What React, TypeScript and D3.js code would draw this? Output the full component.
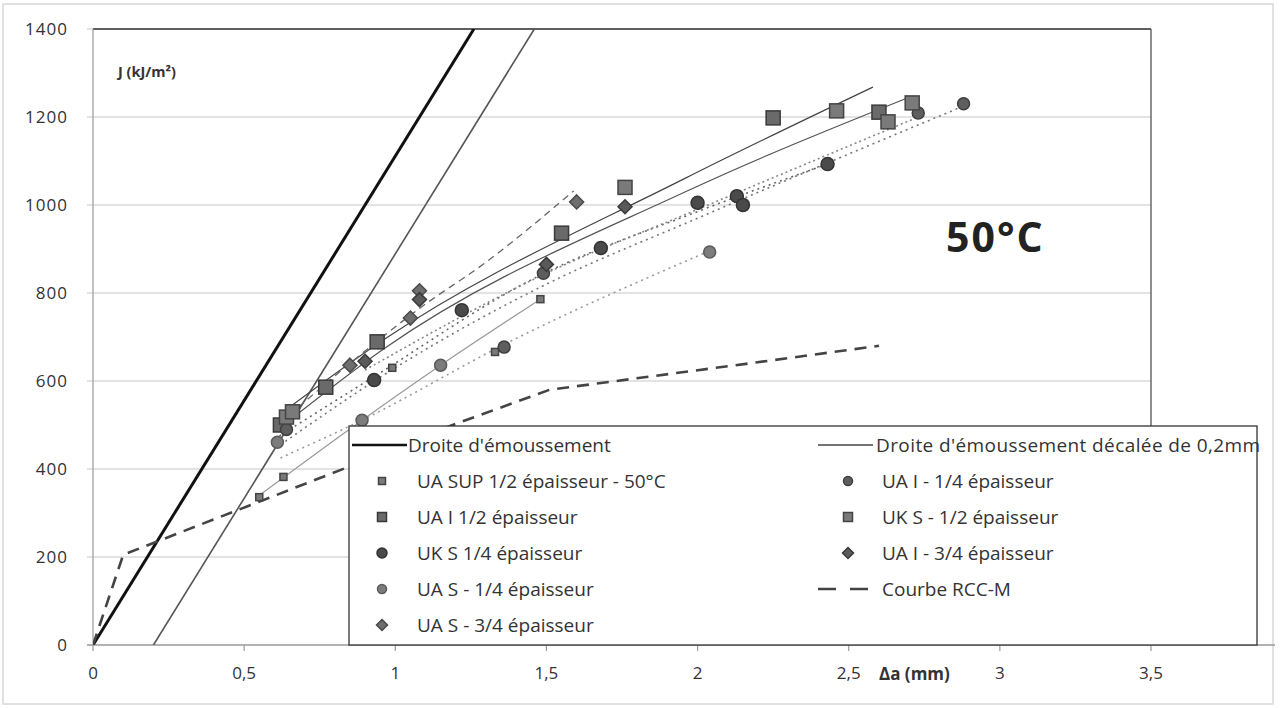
import React from 'react'
import * as d3 from 'd3'

// blunting lines
const bluntDa = [0, 1.26]
const bluntJ = [0, 1400]
const offsetDa = [0.2, 1.46]
const offsetJ = [0, 1400]

// RCC-M curve
const rccDa = [0, 0.1, 0.2, 0.48, 0.82, 1.17, 1.51, 2.16, 2.6]
const rccJ = [0, 205, 232, 307, 398, 495, 580, 639, 680]

// measured points
const uaSupDa = [0.55, 0.63, 0.99, 1.33, 1.48]
const uaSupJ = [336, 382, 630, 666, 786]
const uaIHalfDa = [0.62, 0.77, 0.94, 1.55, 2.25, 2.6]
const uaIHalfJ = [500, 586, 689, 936, 1198, 1211]
const ukSQuarterDa = [0.93, 1.22, 1.68, 2.0, 2.13, 2.15, 2.43]
const ukSQuarterJ = [602, 761, 902, 1005, 1020, 1000, 1093]
const uaSQuarterDa = [0.61, 0.89, 1.15, 2.04]
const uaSQuarterJ = [461, 511, 636, 893]
const uaS34Da = [0.85, 1.05, 1.08, 1.6]
const uaS34J = [636, 743, 805, 1007]
const uaIQuarterDa = [0.64, 1.36, 1.49, 2.73, 2.88]
const uaIQuarterJ = [490, 677, 845, 1209, 1230]
const ukSHalfDa = [0.64, 0.66, 1.76, 2.46, 2.63, 2.71]
const ukSHalfJ = [518, 530, 1040, 1214, 1189, 1232]
const uaI34Da = [0.9, 1.08, 1.5, 1.76]
const uaI34J = [645, 785, 865, 996]

// trend lines
const trUaSupDa = [0.55, 0.89, 1.15, 1.48]
const trUaSupJ = [340, 511, 636, 786]
const trUaSQDa = [0.62, 0.89, 1.38, 2.03]
const trUaSQJ = [425, 511, 690, 893]
const trUaIHDa = [0.62, 0.96, 1.96, 2.58]
const trUaIHJ = [525, 693, 1061, 1268]
const trUkSHDa = [0.64, 0.96, 1.96, 2.7]
const trUkSHJ = [505, 672, 1030, 1245]
const trUaS34Da = [0.62, 0.85, 1.08, 1.3, 1.59]
const trUaS34J = [505, 640, 765, 870, 1032]
const trUkSQDa = [0.6, 0.93, 1.45, 2.0, 2.43]
const trUkSQJ = [468, 610, 830, 985, 1093]
const trUaIQDa = [0.62, 1.0, 1.5, 2.0, 2.88]
const trUaIQJ = [455, 630, 820, 970, 1225]
const trUaI34Da = [0.9, 1.5, 2.0, 2.73]
const trUaI34J = [625, 845, 990, 1200]

const xTicks = [0, 0.5, 1, 1.5, 2, 2.5, 3, 3.5]
const yTicks = [0, 200, 400, 600, 800, 1000, 1200, 1400]

const FONT = 'Open Sans, sans-serif'

const x = d3.scaleLinear().domain([0, 3.5]).range([93, 1151])
const y = d3.scaleLinear().domain([0, 1400]).range([645, 29])

const pts = (a: number[], b: number[]) => a.map((d, i) => [d, b[i]] as [number, number])
const straight = d3.line<[number, number]>().x(d => x(d[0])).y(d => y(d[1]))
const smooth = d3.line<[number, number]>().x(d => x(d[0])).y(d => y(d[1])).curve(d3.curveMonotoneX)

type Shape = 'sq' | 'circle' | 'diamond'
const Marker = ({ cx, cy, shape, size, fill, stroke }: { cx: number, cy: number, shape: Shape, size: number, fill: string, stroke: string }) => {
  if (shape === 'sq') return <rect x={cx - size / 2} y={cy - size / 2} width={size} height={size} fill={fill} stroke={stroke} strokeWidth={1.5} />
  if (shape === 'circle') return <circle cx={cx} cy={cy} r={size / 2} fill={fill} stroke={stroke} strokeWidth={1.5} />
  const h = size / 2 + 1
  return <path d={`M${cx},${cy - h}L${cx + h},${cy}L${cx},${cy + h}L${cx - h},${cy}Z`} fill={fill} stroke={stroke} strokeWidth={1.5} />
}

const series = [
  { name: 'UA SUP 1/2 épaisseur - 50°C', da: uaSupDa, j: uaSupJ, shape: 'sq' as Shape, size: 7, fill: '#7a7a7a', stroke: '#444', lsize: 7 },
  { name: 'UA I 1/2 épaisseur', da: uaIHalfDa, j: uaIHalfJ, shape: 'sq' as Shape, size: 14, fill: '#6a6a6a', stroke: '#3a3a3a', lsize: 9 },
  { name: 'UK S 1/4 épaisseur', da: ukSQuarterDa, j: ukSQuarterJ, shape: 'circle' as Shape, size: 13, fill: '#4a4a4a', stroke: '#333', lsize: 10 },
  { name: 'UA S - 1/4 épaisseur', da: uaSQuarterDa, j: uaSQuarterJ, shape: 'circle' as Shape, size: 12, fill: '#7c7c7c', stroke: '#5a5a5a', lsize: 9 },
  { name: 'UA S - 3/4 épaisseur', da: uaS34Da, j: uaS34J, shape: 'diamond' as Shape, size: 12, fill: '#6e6e6e', stroke: '#4a4a4a', lsize: 9 },
  { name: 'UA I - 1/4 épaisseur', da: uaIQuarterDa, j: uaIQuarterJ, shape: 'circle' as Shape, size: 12, fill: '#5e5e5e', stroke: '#3e3e3e', lsize: 9 },
  { name: 'UK S - 1/2 épaisseur', da: ukSHalfDa, j: ukSHalfJ, shape: 'sq' as Shape, size: 14, fill: '#7a7a7a', stroke: '#444', lsize: 9 },
  { name: 'UA I - 3/4 épaisseur', da: uaI34Da, j: uaI34J, shape: 'diamond' as Shape, size: 12, fill: '#5a5a5a', stroke: '#3a3a3a', lsize: 9 },
]

const trends = [
  { da: trUaSupDa, j: trUaSupJ, color: '#999', width: 1.2, dash: '' },
  { da: trUaSQDa, j: trUaSQJ, color: '#999', width: 1.6, dash: '2 4' },
  { da: trUaIHDa, j: trUaIHJ, color: '#444', width: 1.2, dash: '' },
  { da: trUkSHDa, j: trUkSHJ, color: '#555', width: 1.2, dash: '' },
  { da: trUaS34Da, j: trUaS34J, color: '#666', width: 1.3, dash: '7 5' },
  { da: trUkSQDa, j: trUkSQJ, color: '#666', width: 1.6, dash: '2 4' },
  { da: trUaIQDa, j: trUaIQJ, color: '#777', width: 1.6, dash: '2 4' },
  { da: trUaI34Da, j: trUaI34J, color: '#888', width: 1.6, dash: '2 3' },
]

const leftLegend = [0, 1, 2, 3, 4]
const rightLegend = [5, 6, 7]

export default function App() {
  const rowY = (i: number) => 445 + i * 36
  return (
    <svg width={1285} height={708} style={{ position: 'absolute', left: 0, top: 0, background: '#fff' }} fontFamily={FONT}>
      <rect x={3} y={4} width={1270} height={700} fill="none" stroke="#d8d8d8" strokeWidth={1.5} />

      {/* gridlines */}
      {yTicks.filter(t => t > 0).map(t => (
        <line key={t} x1={87} x2={x(3.5)} y1={y(t)} y2={y(t)} stroke="#c8c8c8" strokeWidth={1.2} />
      ))}
      <line x1={x(0)} x2={x(3.5)} y1={y(1400)} y2={y(1400)} stroke="#333" strokeWidth={1.3} />
      <line x1={x(3.5)} x2={x(3.5)} y1={y(1400)} y2={y(0)} stroke="#444" strokeWidth={1.2} />
      <line x1={x(0)} x2={x(0)} y1={y(1400)} y2={y(0)} stroke="#999" strokeWidth={1.2} />
      <line x1={87} x2={1275} y1={y(0)} y2={y(0)} stroke="#999" strokeWidth={1.5} />
      {xTicks.map(t => (
        <line key={t} x1={x(t)} x2={x(t)} y1={y(0)} y2={y(0) + 6} stroke="#999" strokeWidth={1.2} />
      ))}

      {/* tick labels */}
      {yTicks.map(t => (
        <text key={t} x={68} y={y(t) + 6} textAnchor="end" fontSize={17} fill="#333" letterSpacing={1}>{t}</text>
      ))}
      {xTicks.map(t => (
        <text key={t} x={x(t)} y={679} textAnchor="middle" fontSize={17} fill="#333">{String(t).replace('.', ',')}</text>
      ))}

      <text x={118} y={77} fontSize={14.5} fontWeight="bold" fill="#333">J (kJ/m²)</text>
      <text x={879} y={680} fontSize={17} fontWeight="bold" fill="#333">Δa (mm)</text>
      <text x={946} y={252} fontSize={41} fontWeight="bold" fill="#222" letterSpacing={2}>50°C</text>

      <clipPath id="plot">
        <rect x={x(0)} y={y(1400)} width={x(3.5) - x(0)} height={y(0) - y(1400)} />
      </clipPath>

      <g clipPath="url(#plot)">
        <path d={straight(pts(bluntDa, bluntJ)) || ''} fill="none" stroke="#111" strokeWidth={3} />
        <path d={straight(pts(offsetDa, offsetJ)) || ''} fill="none" stroke="#555" strokeWidth={1.6} />
        {trends.map((t, i) => (
          <path key={i} d={smooth(pts(t.da, t.j)) || ''} fill="none" stroke={t.color} strokeWidth={t.width} strokeDasharray={t.dash} />
        ))}
        <path d={straight(pts(rccDa, rccJ)) || ''} fill="none" stroke="#444" strokeWidth={2.6} strokeDasharray="12 8" />
        {series.map(s => s.da.map((d, i) => (
          <Marker key={s.name + i} cx={x(d)} cy={y(s.j[i])} shape={s.shape} size={s.size} fill={s.fill} stroke={s.stroke} />
        )))}
      </g>

      {/* legend */}
      <rect x={349} y={426} width={908} height={219} fill="#fff" stroke="#333" strokeWidth={1.3} />
      <line x1={352} x2={407} y1={rowY(0)} y2={rowY(0)} stroke="#111" strokeWidth={2.5} />
      <text x={408} y={rowY(0) + 7} fontSize={19} fill="#333">Droite d'émoussement</text>
      {leftLegend.map((si, k) => {
        const s = series[si]
        return (
          <g key={si}>
            <Marker cx={382} cy={rowY(k + 1)} shape={s.shape} size={s.lsize} fill={s.fill} stroke={s.stroke} />
            <text x={417} y={rowY(k + 1) + 7} fontSize={19} fill="#333">{s.name}</text>
          </g>
        )
      })}
      <line x1={818} x2={873} y1={rowY(0)} y2={rowY(0)} stroke="#444" strokeWidth={1.5} />
      <text x={876} y={rowY(0) + 7} fontSize={19} fill="#333" letterSpacing={0.4}>Droite d'émoussement décalée de 0,2mm</text>
      {rightLegend.map((si, k) => {
        const s = series[si]
        return (
          <g key={si}>
            <Marker cx={848} cy={rowY(k + 1)} shape={s.shape} size={s.lsize} fill={s.fill} stroke={s.stroke} />
            <text x={882} y={rowY(k + 1) + 7} fontSize={19} fill="#333">{s.name}</text>
          </g>
        )
      })}
      <line x1={818} x2={868} y1={rowY(4)} y2={rowY(4)} stroke="#444" strokeWidth={2.6} strokeDasharray="18 14" />
      <text x={882} y={rowY(4) + 7} fontSize={19} fill="#333">Courbe RCC-M</text>
    </svg>
  )
}
